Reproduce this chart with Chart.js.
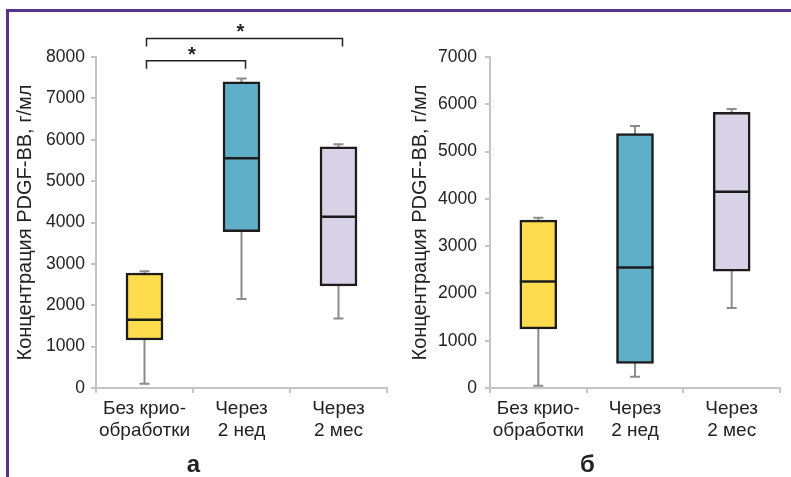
<!DOCTYPE html>
<html>
<head>
<meta charset="utf-8">
<script src="https://cdn.jsdelivr.net/npm/chart.js@4.4.1/dist/chart.umd.min.js"></script>
<style>
  html, body { margin: 0; padding: 0; background: #fff; }
  #wrap { position: relative; width: 791px; height: 477px; overflow: hidden; }
  #frame {
    position: absolute; left: 6px; top: 9px; right: 0; bottom: 0;
    border-top: 3px solid #5b318f; border-left: 3px solid #5b318f;
  }
  canvas { position: absolute; top: 0; }
</style>
</head>
<body>
<div id="wrap">
  <div id="frame"></div>
  <canvas id="chartA" width="395" height="477" style="left:0"></canvas>
  <canvas id="chartB" width="396" height="477" style="left:395px"></canvas>
</div>
<script>
  /* ── Data ─────────────────────────────────────────────────────────── */
  const categories = [['Без крио-', 'обработки'], ['Через', '2 нед'], ['Через', '2 мес']];

  // panel а
  const aMin    = [100, 2150, 1680];
  const aQ1     = [1160, 3780, 2470];
  const aMedian = [1650, 5550, 4140];
  const aQ3     = [2780, 7400, 5830];
  const aMax    = [2820, 7480, 5890];
  const aTicks  = [0, 1000, 2000, 3000, 4000, 5000, 6000, 7000, 8000];

  // panel б
  const bMin    = [50, 240, 1690];
  const bQ1     = [1250, 520, 2470];
  const bMedian = [2250, 2550, 4150];
  const bQ3     = [3550, 5380, 5830];
  const bMax    = [3600, 5540, 5900];
  const bTicks  = [0, 1000, 2000, 3000, 4000, 5000, 6000, 7000];

  // significance brackets (panel а): category pairs and bracket level in axis units
  const sigPairs  = [[0, 1], [0, 2]];
  const sigLevels = [7910, 8450];

  const boxColors = ['#fddc4e', '#5eafc7', '#d9d1e5'];
  const FONT = "'Liberation Sans', Arial, sans-serif";
  const INK = '#222';

  /* ── Plugin: whiskers, medians, brackets ──────────────────────────── */
  const boxParts = {
    id: 'boxParts',
    beforeDatasetsDraw(chart, args, opts) {
      const y = chart.scales.y;
      const bars = chart.getDatasetMeta(0).data;
      const ctx = chart.ctx;
      ctx.save();
      ctx.strokeStyle = '#8c8c8c';
      ctx.lineWidth = 2;
      bars.forEach((bar, i) => {
        const yMin = y.getPixelForValue(opts.min[i]);
        const yMax = y.getPixelForValue(opts.max[i]);
        ctx.beginPath();
        ctx.moveTo(bar.x, yMin); ctx.lineTo(bar.x, yMax);
        ctx.moveTo(bar.x - 5, yMin); ctx.lineTo(bar.x + 5, yMin);
        ctx.moveTo(bar.x - 5, yMax); ctx.lineTo(bar.x + 5, yMax);
        ctx.stroke();
      });
      ctx.restore();
    },
    afterDatasetsDraw(chart, args, opts) {
      const y = chart.scales.y;
      const bars = chart.getDatasetMeta(0).data;
      const ctx = chart.ctx;
      ctx.save();
      ctx.strokeStyle = '#1c1c1c';
      ctx.lineWidth = 2.5;
      bars.forEach((bar, i) => {
        const ym = y.getPixelForValue(opts.median[i]);
        ctx.beginPath();
        ctx.moveTo(bar.x - bar.width / 2, ym);
        ctx.lineTo(bar.x + bar.width / 2, ym);
        ctx.stroke();
      });

      (opts.pairs || []).forEach((pair, k) => {
        const x1 = bars[pair[0]].x + 2;
        const x2 = bars[pair[1]].x + 4;
        const yl = y.getPixelForValue(opts.levels[k]);
        ctx.strokeStyle = INK;
        ctx.lineWidth = 1.5;
        ctx.beginPath();
        ctx.moveTo(x1, yl + 8); ctx.lineTo(x1, yl);
        ctx.lineTo(x2, yl); ctx.lineTo(x2, yl + 8);
        ctx.stroke();
        ctx.fillStyle = INK;
        ctx.font = 'bold 20px ' + FONT;
        ctx.textAlign = 'center';
        ctx.textBaseline = 'alphabetic';
        ctx.fillText('*', (x1 + x2) / 2 - 4, yl);
      });
      ctx.restore();
    }
  };

  /* ── Chart builder ────────────────────────────────────────────────── */
  function makeChart(id, q1, q3, stats, ticks, max, yWidth, padRight, tickPad, letter) {
    return new Chart(document.getElementById(id), {
      type: 'bar',
      data: {
        labels: categories,
        datasets: [{
          data: q1.map((v, i) => [v, q3[i]]),
          backgroundColor: boxColors,
          borderColor: '#1c1c1c',
          borderWidth: 2.5,
          borderSkipped: false,
          barThickness: 37,
        }],
      },
      options: {
        responsive: false,
        animation: false,
        events: [],
        layout: { padding: { top: 57, right: padRight, bottom: 0, left: 0 } },
        plugins: {
          legend: { display: false },
          tooltip: { enabled: false },
          title: {
            display: true,
            position: 'bottom',
            text: letter,
            color: INK,
            padding: 0,
            font: { family: FONT, size: 24, weight: 'bold', lineHeight: 1.0 },
          },
          boxParts: stats,
        },
        scales: {
          x: {
            offset: true,
            afterFit: s => { s.height = 65; },
            border: { color: '#c4c4c4', width: 2 },
            grid: { offset: true, drawOnChartArea: false, color: '#c4c4c4', lineWidth: 2, tickLength: 5 },
            ticks: {
              color: INK, padding: 4, maxRotation: 0, minRotation: 0, autoSkip: false,
              font: { family: FONT, size: 19, lineHeight: 1.2 },
            },
          },
          y: {
            min: 0,
            max: max,
            afterFit: s => { s.width = yWidth; },
            afterBuildTicks: s => { s.ticks = ticks.map(v => ({ value: v })); },
            border: { color: '#c4c4c4', width: 2 },
            grid: { drawOnChartArea: false, color: '#c4c4c4', lineWidth: 2, tickLength: 5 },
            ticks: {
              color: INK, padding: tickPad,
              font: { family: FONT, size: 17.5 },
              callback: v => String(v),
            },
            title: {
              display: true,
              text: 'Концентрация PDGF-BB, г/мл',
              color: INK,
              padding: { top: 13, bottom: 0 },
              font: { family: FONT, size: 20 },
            },
          },
        },
      },
      plugins: [boxParts],
    });
  }

  makeChart('chartA', aQ1, aQ3,
    { min: aMin, median: aMedian, max: aMax, pairs: sigPairs, levels: sigLevels },
    aTicks, 8000, 96, 8, 6, 'а');
  makeChart('chartB', bQ1, bQ3,
    { min: bMin, median: bMedian, max: bMax, pairs: [], levels: [] },
    bTicks, 7000, 95, 11, 8, 'б');
</script>
</body>
</html>
